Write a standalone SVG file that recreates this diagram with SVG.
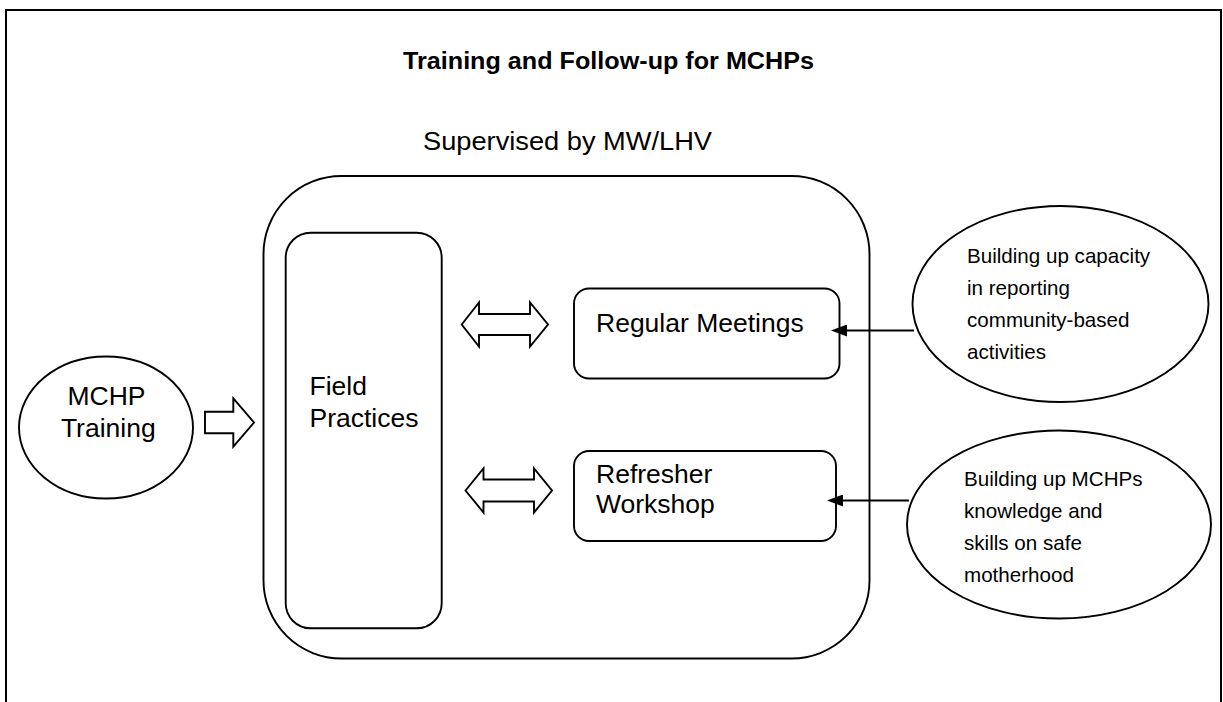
<svg xmlns="http://www.w3.org/2000/svg" width="1223" height="702" viewBox="0 0 1223 702">
<style>
.shape{fill:#fff;stroke:#000;stroke-width:1.9}
.frame{fill:none;stroke:#000;stroke-width:2}
.t{font-family:"Liberation Sans",Arial,sans-serif;font-size:26.5px;fill:#000}
.s{font-family:"Liberation Sans",Arial,sans-serif;font-size:20.6px;fill:#000}
.title{font-family:"Liberation Sans",Arial,sans-serif;font-size:23px;font-weight:bold;fill:#000}
.conn{fill:none;stroke:#000;stroke-width:2}
</style>
<defs>
<marker id="ah" markerUnits="userSpaceOnUse" viewBox="0 0 16 12" refX="12" refY="6" markerWidth="16" markerHeight="12" orient="auto">
<path d="M0,0 L16,6 L0,12 Z" fill="#000"/>
</marker>
</defs>
<rect width="1223" height="702" fill="#fff"/>
<path class="frame" d="M6,702 V10 H1221 V702"/>
<text class="title" x="403" y="69" textLength="411" lengthAdjust="spacingAndGlyphs">Training and Follow-up for MCHPs</text>
<text class="t" x="423" y="150" textLength="289" lengthAdjust="spacingAndGlyphs">Supervised by MW/LHV</text>
<g id="supervision">
<rect class="shape" x="263.5" y="176" width="606" height="482.5" rx="78" ry="78"/>
</g>
<g id="mchp-training">
<ellipse class="shape" cx="106" cy="427.5" rx="87" ry="71"/>
<text class="t" x="106.5" y="405" text-anchor="middle">MCHP</text>
<text class="t" x="108.3" y="437" text-anchor="middle">Training</text>
</g>
<g id="field-practices">
<rect class="shape" x="285.7" y="232.7" width="156" height="395.6" rx="25" ry="25"/>
<text class="t" x="309.5" y="395">Field</text>
<text class="t" x="309.5" y="427">Practices</text>
</g>
<g id="regular-meetings">
<rect class="shape" x="574" y="288.5" width="265.5" height="90" rx="15" ry="15"/>
<text class="t" x="596" y="332">Regular Meetings</text>
</g>
<g id="refresher-workshop">
<rect class="shape" x="574" y="451" width="262" height="90" rx="15" ry="15"/>
<text class="t" x="596" y="483">Refresher</text>
<text class="t" x="596" y="513">Workshop</text>
</g>
<g id="capacity-reporting">
<ellipse class="shape" cx="1060.5" cy="304" rx="148" ry="98"/>
<text class="s" x="967" y="263">Building up capacity</text>
<text class="s" x="967" y="295">in reporting</text>
<text class="s" x="967" y="327">community-based</text>
<text class="s" x="967" y="359">activities</text>
</g>
<g id="knowledge-skills">
<ellipse class="shape" cx="1059" cy="524.5" rx="152" ry="94"/>
<text class="s" x="964" y="486">Building up MCHPs</text>
<text class="s" x="964" y="518">knowledge and</text>
<text class="s" x="964" y="550">skills on safe</text>
<text class="s" x="964" y="582">motherhood</text>
</g>
<g id="connectors">
<polygon class="shape" points="205,411.7 233.3,411.7 233.3,398.3 254,422.5 233.3,446.7 233.3,433.3 205,433.3"/>
<polygon class="shape" points="461.7,324.5 479,302.5 479,314 530,314 530,302.5 548,324.5 530,346.5 530,335 479,335 479,346.5"/>
<polygon class="shape" points="465.5,490.5 483.5,468.5 483.5,479.5 534,479.5 534,468.5 552,490.5 534,512.5 534,501.5 483.5,501.5 483.5,512.5"/>
<line class="conn" x1="914" y1="330.5" x2="835" y2="330.5" marker-end="url(#ah)"/>
<line class="conn" x1="909" y1="500.5" x2="831" y2="500.5" marker-end="url(#ah)"/>
</g>
</svg>
